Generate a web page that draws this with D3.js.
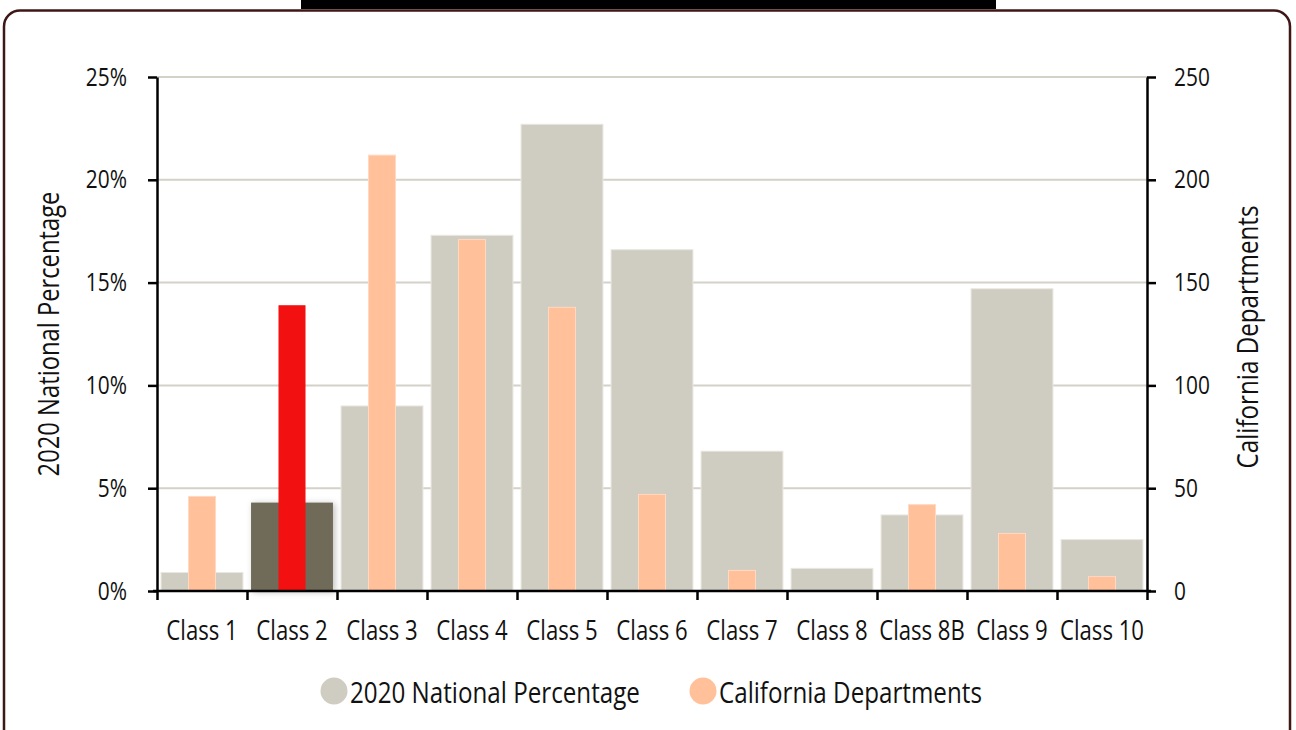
<!DOCTYPE html>
<html>
<head>
<meta charset="utf-8">
<script src="https://cdn.jsdelivr.net/npm/d3@7"></script>
<style>
  html, body { margin: 0; padding: 0; background: #fff; }
  svg { display: block; }
  text { font-family: "Open Sans", "Noto Sans", sans-serif; fill: #111; }
</style>
</head>
<body>
<svg id="chart" width="1296" height="730"></svg>
<script>
// Fire department class distribution
const classes = ["Class 1", "Class 2", "Class 3", "Class 4", "Class 5", "Class 6",
                 "Class 7", "Class 8", "Class 8B", "Class 9", "Class 10"];
const nationalPct = [0.9, 4.3, 9.0, 17.3, 22.7, 16.6, 6.8, 1.1, 3.7, 14.7, 2.5];
const caDepartments = [46, 139, 212, 171, 138, 47, 10, 0, 42, 28, 7];
const pctTicks = [0, 5, 10, 15, 20, 25];
const countTicks = [0, 50, 100, 150, 200, 250];
const highlightClass = "Class 2";
const seriesNames = ["2020 National Percentage", "California Departments"];

const colors = {
  national: "#cfccc1",
  california: "#ffc09a",
  nationalHi: "#706a58",
  californiaHi: "#f21010",
  grid: "#d4d1c9",
  frame: "#3f1717"
};

// Horizontal squeeze for a condensed typeface look
const squeeze = 0.82;
function condense(sel) {
  sel.each(function () {
    const t = d3.select(this);
    const x0 = +(t.attr("x") || 0);
    t.attr("x", x0 / squeeze);
    const tr = t.attr("transform");
    t.attr("transform", (tr ? tr + " " : "") + `scale(${squeeze},1)`);
  });
}

const svg = d3.select("#chart");
const plotL = 157, plotR = 1147, plotT = 77, plotB = 591;

// Page frame
svg.append("rect")
  .attr("x", 4).attr("y", 10.5).attr("width", 1286).attr("height", 740)
  .attr("rx", 16).attr("ry", 16)
  .attr("fill", "#fff").attr("stroke", colors.frame).attr("stroke-width", 2.5);
svg.append("rect")
  .attr("x", 301).attr("y", 0).attr("width", 695).attr("height", 9)
  .attr("fill", "#000");

const defs = svg.append("defs");
const shadow = defs.append("filter").attr("id", "barShadow")
  .attr("x", "-20%").attr("y", "-20%").attr("width", "140%").attr("height", "140%");
shadow.append("feDropShadow")
  .attr("dx", 2).attr("dy", 1).attr("stdDeviation", 3)
  .attr("flood-color", "#000").attr("flood-opacity", 0.25);

const x = d3.scaleBand().domain(classes).range([plotL, plotR])
  .paddingInner(0.09).paddingOuter(0.045);
const yPct = d3.scaleLinear().domain([0, 25]).range([plotB, plotT]);
const yCount = d3.scaleLinear().domain([0, 250]).range([plotB, plotT]);
const boundary = d3.scaleLinear().domain([0, classes.length]).range([plotL, plotR]);

// Gridlines
svg.append("g").selectAll("line").data(pctTicks.slice(1)).join("line")
  .attr("x1", plotL).attr("x2", plotR)
  .attr("y1", d => yPct(d)).attr("y2", d => yPct(d))
  .attr("stroke", colors.grid).attr("stroke-width", 2);

const rows = classes.map((c, i) => ({ c, pct: nationalPct[i], n: caDepartments[i] }));

// National percentage bars (wide)
svg.append("g").selectAll("rect").data(rows).join("rect")
  .attr("x", d => x(d.c))
  .attr("width", x.bandwidth())
  .attr("y", d => yPct(d.pct))
  .attr("height", d => yPct(0) - yPct(d.pct))
  .attr("fill", d => d.c === highlightClass ? colors.nationalHi : colors.national)
  .attr("stroke", d => d.c === highlightClass ? "none" : "#e9e7e1")
  .attr("stroke-width", 1)
  .attr("filter", d => d.c === highlightClass ? "url(#barShadow)" : null);

// California department bars (narrow, on the right axis)
const narrowW = x.bandwidth() * 0.33;
svg.append("g").selectAll("rect").data(rows.filter(d => d.n > 0)).join("rect")
  .attr("x", d => x(d.c) + (x.bandwidth() - narrowW) / 2)
  .attr("width", narrowW)
  .attr("y", d => yCount(d.n))
  .attr("height", d => yCount(0) - yCount(d.n))
  .attr("fill", d => d.c === highlightClass ? colors.californiaHi : colors.california)
  .attr("stroke", d => d.c === highlightClass ? "none" : "#ffd9c2")
  .attr("stroke-width", 1);

function styleAxis(g, size) {
  g.selectAll(".domain").attr("stroke", "#000").attr("stroke-width", 2.5);
  g.selectAll(".tick line").attr("stroke", "#000").attr("stroke-width", 2.5);
  g.selectAll("text").attr("font-size", size).attr("fill", "#111").call(condense);
}

// Left axis
svg.append("g").attr("transform", `translate(${plotL},0)`)
  .call(d3.axisLeft(yPct).tickValues(pctTicks).tickFormat(d => d + "%")
    .tickSize(9).tickSizeOuter(0).tickPadding(21))
  .call(g => styleAxis(g, 25.5));

// Right axis
svg.append("g").attr("transform", `translate(${plotR},0)`)
  .call(d3.axisRight(yCount).tickValues(countTicks)
    .tickSize(9).tickSizeOuter(0).tickPadding(18))
  .call(g => styleAxis(g, 25.5));

// Bottom axis: ticks on category boundaries, labels centered in bands
svg.append("g").attr("transform", `translate(0,${plotB})`)
  .call(d3.axisBottom(boundary).tickValues(d3.range(classes.length + 1))
    .tickFormat("").tickSize(9).tickSizeOuter(0))
  .call(g => styleAxis(g, 25))
  .select(".domain").attr("d", `M${plotL - 4},0H${plotR + 4}`);

svg.append("g").attr("transform", `translate(0,${plotB})`)
  .call(d3.axisBottom(x).tickSize(0).tickPadding(30))
  .call(g => g.select(".domain").remove())
  .call(g => styleAxis(g, 27));

// Axis titles
svg.append("text")
  .attr("transform", `translate(59,${(plotT + plotB) / 2}) rotate(-90)`)
  .attr("text-anchor", "middle").attr("font-size", 29)
  .text(seriesNames[0]).call(condense);
svg.append("text")
  .attr("transform", `translate(1258,${(plotT + plotB) / 2 + 3}) rotate(-90)`)
  .attr("text-anchor", "middle").attr("font-size", 29.5)
  .text(seriesNames[1]).call(condense);

// Legend
const legend = svg.append("g").attr("transform", "translate(0,691)");
const legendItems = [
  { name: seriesNames[0], color: colors.national, cx: 334 },
  { name: seriesNames[1], color: colors.california, cx: 703 }
];
legendItems.forEach(it => {
  legend.append("circle").attr("cx", it.cx).attr("cy", 0).attr("r", 13.5).attr("fill", it.color);
  legend.append("text").attr("x", it.cx + 16).attr("y", 12)
    .attr("font-size", 29.5).text(it.name).call(condense);
});
</script>
</body>
</html>
